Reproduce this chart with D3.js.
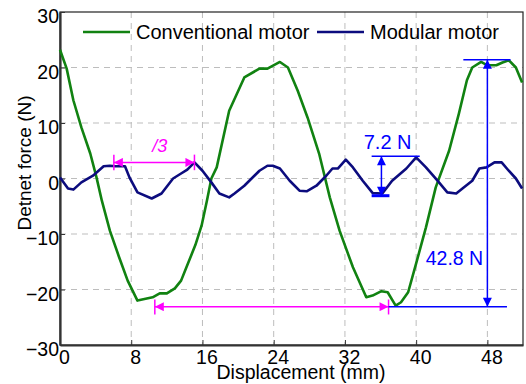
<!DOCTYPE html>
<html>
<head>
<meta charset="utf-8">
<script src="https://cdn.jsdelivr.net/npm/d3@7"></script>
<style>
  body { margin: 0; background: #fff; }
  text { font-family: "Liberation Sans", Arial, sans-serif; }
</style>
</head>
<body>
<div id="chart"></div>
<script>
// displacement (mm) / force (N)
var convX = [0, 0.75, 1.5, 2.4, 3.4, 4.1, 4.7, 5.6, 6.6, 7.6, 8.7, 10.4, 11.2, 12, 12.9, 13.6, 14.2, 15.2, 15.9, 16.5, 17, 17.6, 19, 20.7, 22.4, 23.3, 24.7, 25.6, 26.7, 27.8, 29.1, 30.3, 31.4, 32.9, 34.4, 35.1, 36.1, 36.8, 37.7, 38.3, 39.1, 40, 41.1, 42.2, 43.7, 44.8, 45.7, 46.3, 47.3, 48, 49, 49.7, 50.4, 51.2, 51.9];
var convY = [23.2, 19.8, 14.1, 9.2, 4.5, 0.2, -4, -9.4, -14, -18.4, -22, -21.4, -20.7, -20.7, -19.8, -18.4, -16, -12, -8.5, -4, 0, 2, 12.2, 18.2, 19.8, 19.8, 21, 20, 15.8, 11, 4.5, -3.4, -9.4, -16, -21.4, -21.1, -20.3, -20.5, -22.9, -22.3, -20.5, -15.3, -8.8, -1.6, 5, 11.7, 17.7, 20, 21, 20.4, 20.4, 20.9, 21.3, 20, 17.3];

var modX = [0, 0.9, 1.5, 2.4, 3.7, 4.9, 5.6, 6.2, 7.3, 7.8, 8.7, 10.3, 11.4, 12.7, 13.6, 14.3, 15.1, 16, 17, 17.9, 19, 19.6, 20.7, 22.4, 23.3, 23.9, 24.7, 25.8, 26.9, 27.7, 28.8, 29.9, 30.6, 31.2, 32.1, 32.9, 34, 35.1, 36.2, 37.3, 38.9, 40, 41.1, 42.4, 43.5, 44.5, 45.2, 46.3, 47.1, 47.9, 48.8, 49.6, 50.4, 51.2, 51.9];
var modY = [0.2, -1.8, -2, -0.7, 0.5, 2.2, 2.3, 2.2, 2.2, 0.2, -2.5, -3.6, -2.7, 0, 0.9, 1.6, 2.9, 1.4, -0.7, -2.7, -3.4, -2.7, -1.3, 1.4, 2.3, 2.3, 1.8, -0.4, -2.2, -2.3, -1.3, 0.5, 1.8, 1.8, 3.4, 2, -0.4, -2.6, -2.7, -0.4, 1.8, 3.8, 2, -0.4, -2.5, -2.7, -1.8, -0.4, 1.8, 2, 2.9, 2.9, 1.4, 0, -1.8];

var xTicks = [0, 8, 16, 24, 32, 40, 48];
var yTicks = [-30, -20, -10, 0, 10, 20, 30];
var seriesNames = ["Conventional motor", "Modular motor"];

var svgWidth = 526;
var svgHeight = 384;
var margin = { top: 12, right: 3, bottom: 39, left: 60 };
var width = svgWidth - margin.left - margin.right;
var height = svgHeight - margin.top - margin.bottom;

var svg = d3.select("#chart")
    .append("svg")
    .attr("width", svgWidth)
    .attr("height", svgHeight);

var chartGroup = svg.append("g")
    .attr("transform", `translate(${margin.left}, ${margin.top})`);

var x = d3.scaleLinear().domain([0, 52]).range([0, width]);
var y = d3.scaleLinear().domain([-30, 30]).range([height, 0]);

// grid
chartGroup.append("g").selectAll("line")
    .data(xTicks.filter(d => d > 0))
    .enter().append("line")
    .attr("x1", d => x(d)).attr("x2", d => x(d))
    .attr("y1", 0).attr("y2", height)
    .attr("stroke", "#bdbdbd").attr("stroke-dasharray", "6,5");
chartGroup.append("g").selectAll("line")
    .data(yTicks.filter(d => d > -30 && d < 30))
    .enter().append("line")
    .attr("x1", 0).attr("x2", width)
    .attr("y1", d => y(d)).attr("y2", d => y(d))
    .attr("stroke", "#bdbdbd").attr("stroke-dasharray", "6,5");

// frame
chartGroup.append("rect")
    .attr("width", width).attr("height", height)
    .attr("fill", "none").attr("stroke", "#222").attr("stroke-width", 1.2);

var bottomAxis = d3.axisBottom(x).tickValues(xTicks).tickSize(-5).tickSizeOuter(0);
var leftAxis = d3.axisLeft(y).tickValues(yTicks).tickSize(-5).tickSizeOuter(0);

var gx = chartGroup.append("g")
    .attr("transform", `translate(0, ${height})`)
    .call(bottomAxis);
var gy = chartGroup.append("g").call(leftAxis);

[gx, gy].forEach(function(g) {
    g.select(".domain").attr("stroke", "#333").attr("stroke-width", 2.2);
    g.selectAll(".tick line").attr("stroke", "#333");
    g.selectAll(".tick text")
        .attr("fill", "#000")
        .style("font-size", "19.5px")
        .style("font-family", "'Liberation Sans', Arial, sans-serif");
});
gx.selectAll(".tick text").attr("y", 5).attr("dx", "4px").attr("dy", "0.71em");
gy.selectAll(".tick text").attr("x", -1).attr("dy", "0.55em");

// lines
var convLine = d3.line().x((d, i) => x(convX[i])).y(d => y(d));
var modLine = d3.line().x((d, i) => x(modX[i])).y(d => y(d));

chartGroup.append("path")
    .attr("d", convLine(convY))
    .attr("fill", "none").attr("stroke", "#118211").attr("stroke-width", 2.6)
    .attr("stroke-linejoin", "round");
chartGroup.append("path")
    .attr("d", modLine(modY))
    .attr("fill", "none").attr("stroke", "#0c0c7e").attr("stroke-width", 2.6)
    .attr("stroke-linejoin", "round");

// legend
var legend = chartGroup.append("g");
var legendItems = [
    { name: seriesNames[0], color: "#118211", x0: 23 },
    { name: seriesNames[1], color: "#0c0c7e", x0: 257 }
];
legendItems.forEach(function(it) {
    legend.append("line")
        .attr("x1", it.x0).attr("x2", it.x0 + 47)
        .attr("y1", 20).attr("y2", 20)
        .attr("stroke", it.color).attr("stroke-width", 2.6);
    legend.append("text")
        .attr("x", it.x0 + 53).attr("y", 27)
        .style("font-size", "20px")
        .text(it.name);
});

// annotations
var defs = svg.append("defs");
function marker(id, color) {
    defs.append("marker")
        .attr("id", id).attr("viewBox", "0 0 10 10")
        .attr("refX", 10).attr("refY", 5)
        .attr("markerWidth", 14).attr("markerHeight", 9)
        .attr("markerUnits", "userSpaceOnUse")
        .attr("orient", "auto-start-reverse")
        .append("path").attr("d", "M0,0L10,5L0,10Z").attr("fill", color);
}
marker("arrM", "#ff00ff");
marker("arrB", "#0000ff");

function dblArrow(x1, y1, x2, y2, color, id) {
    chartGroup.append("line")
        .attr("x1", x(x1)).attr("y1", y(y1)).attr("x2", x(x2)).attr("y2", y(y2))
        .attr("stroke", color).attr("stroke-width", 1.5)
        .attr("marker-start", `url(#${id})`).attr("marker-end", `url(#${id})`);
}
function seg(x1, y1, x2, y2, color, w) {
    chartGroup.append("line")
        .attr("x1", x(x1)).attr("y1", y(y1)).attr("x2", x(x2)).attr("y2", y(y2))
        .attr("stroke", color).attr("stroke-width", w || 1.5);
}

// magenta: period /3
dblArrow(6.05, 2.9, 15.1, 2.9, "#ff00ff", "arrM");
seg(6.05, 1.5, 6.05, 4.3, "#ff00ff");
seg(15.1, 1.5, 15.1, 4.3, "#ff00ff");
chartGroup.append("text")
    .attr("x", x(11.2)).attr("y", y(4.8))
    .attr("text-anchor", "middle").attr("fill", "#ff00ff")
    .style("font-size", "18px").style("font-style", "italic")
    .text("/3");

// magenta: bottom
dblArrow(10.65, -23.1, 36.9, -23.1, "#ff00ff", "arrM");
seg(10.65, -21.8, 10.65, -24.5, "#ff00ff");
seg(36.9, -21.8, 36.9, -24.5, "#ff00ff");

// blue: 7.2 N
seg(35.0, 4.0, 40.4, 4.0, "#0000ff");
seg(35.0, -3.1, 37.0, -3.1, "#0000ff", 3);
dblArrow(36.1, 4.0, 36.1, -3.1, "#0000ff", "arrB");
chartGroup.append("text")
    .attr("x", x(36.8)).attr("y", y(5.4))
    .attr("text-anchor", "middle").attr("fill", "#0000ff")
    .style("font-size", "20px")
    .text("7.2 N");

// blue: 42.8 N
seg(45.3, 21.4, 50.6, 21.4, "#0000ff");
seg(36.9, -23.1, 50.2, -23.1, "#0000ff");
dblArrow(48, 21.4, 48, -23.1, "#0000ff", "arrB");
chartGroup.append("text")
    .attr("x", x(44.3)).attr("y", y(-15.5))
    .attr("text-anchor", "middle").attr("fill", "#0000ff")
    .style("font-size", "19.5px")
    .text("42.8 N");

// axis titles
svg.append("text")
    .attr("x", 301).attr("y", 379)
    .attr("text-anchor", "middle")
    .style("font-size", "19.5px")
    .text("Displacement (mm)");
svg.append("text")
    .attr("transform", "translate(31, 163) rotate(-90)")
    .attr("text-anchor", "middle")
    .style("font-size", "19px")
    .text("Detnet force (N)");
</script>
</body>
</html>
